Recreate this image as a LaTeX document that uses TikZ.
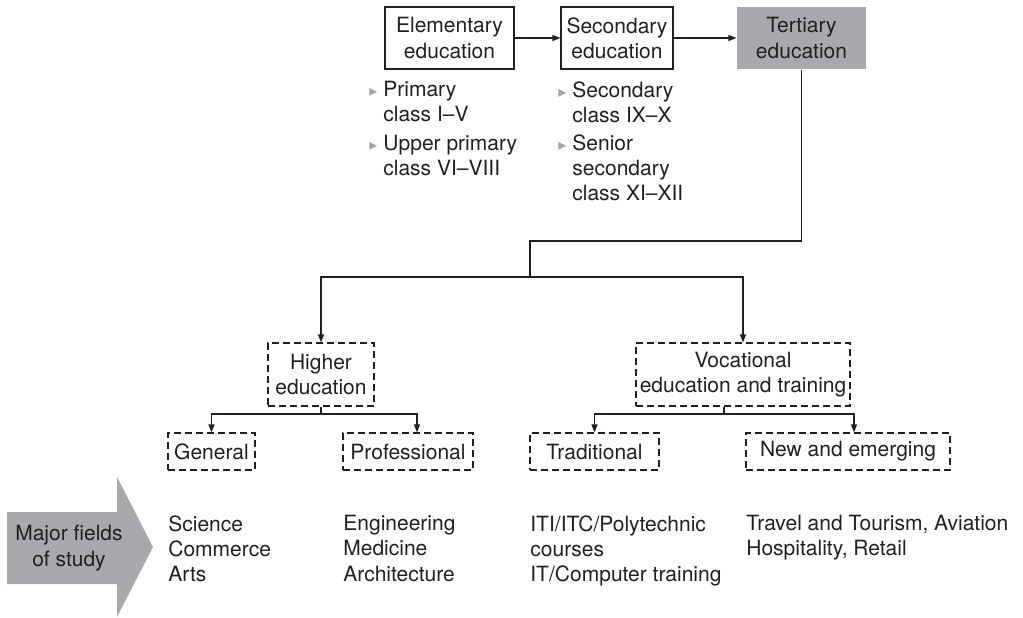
\documentclass[tikz,border=0pt]{standalone}
\usepackage{fontspec}
\setmainfont{TeX Gyre Heros}
\newfontfamily\symfont{DejaVu Sans}
\usetikzlibrary{arrows.meta,positioning,calc}
\definecolor{ink}{HTML}{231F20}
\definecolor{boxgray}{HTML}{A7A9AC}
\newcommand{\bul}{{\symfont\color{black!35}\footnotesize ▸}\hspace{3pt}}

\begin{document}
\begin{tikzpicture}[x=0.5pt,y=-0.5pt,
  every node/.style={font=\fontsize{10.5}{12.6}\selectfont, text=ink, inner sep=0pt},
  solidbox/.style={draw=ink, line width=0.6pt, align=center, minimum height=31pt},
  dashbox/.style={draw=ink, line width=0.6pt, dash pattern=on 3.5pt off 2pt, align=center},
  arr/.style={-{Triangle[length=4pt,width=3pt]}, line width=0.6pt, draw=ink},
  link/.style={line width=0.6pt, draw=ink},
  list/.style={align=left, anchor=north west}]
\useasboundingbox (0,0) rectangle (1023,617);
% School stages
\node[solidbox, minimum width=64.5pt] (elem) at (449.5,38) {Elementary\\education};
\node[solidbox, minimum width=56pt] (sec) at (617,38) {Secondary\\education};
\node[solidbox, draw=none, fill=boxgray, minimum width=64.5pt] (tert) at (801.5,38) {Tertiary\\education};
\draw[arr] (elem) -- (sec);
\draw[arr] (sec) -- (tert);
% Classes under each stage
\node[list] (elemlist) at (383,81) {\llap{\bul}Primary\\class I–V\\[1.5pt]\llap{\bul}Upper primary\\class VI–VIII};
\node[list] (seclist) at (572,81) {\llap{\bul}Secondary\\class IX–X\\[1.5pt]\llap{\bul}Senior\\secondary\\class XI–XII};
% Tertiary splits in two
\node[dashbox, minimum width=53pt, minimum height=31.5pt] (higher) at (321,374.5) {Higher\\education};
\node[dashbox, minimum width=107pt, minimum height=31.5pt] (voc) at (743,374.5) {Vocational\\education and training};
\coordinate (bend) at (530,241);
\coordinate (split) at (530,277);
\draw[link] (tert.south) |- (bend) -- (split);
\draw[arr] (split) -| (higher.north);
\draw[arr] (split) -| (voc.north);
% Streams
\node[dashbox, minimum width=43.5pt, minimum height=18.5pt] (general) at (211.5,451.5) {General};
\node[dashbox, minimum width=65pt, minimum height=18.5pt] (prof) at (408,451.5) {Professional};
\node[dashbox, minimum width=64.5pt, minimum height=18.5pt] (trad) at (594.5,451.5) {Traditional};
\node[dashbox, minimum width=102pt, minimum height=18.5pt] (newem) at (848,451.5) {New and emerging};
\coordinate (hsplit) at (321,414);
\coordinate (vsplit) at (724,414);
\draw[link] (higher.south) -- (hsplit);
\draw[arr] (hsplit) -| (general.north);
\draw[arr] (hsplit) -| ($(prof.north)+(9,0)$);
\draw[link] (vsplit |- voc.south) -- (vsplit);
\draw[arr] (vsplit) -| (trad.north);
\draw[arr] (vsplit) -| ($(newem.north)+(6,0)$);
% Major fields of study
\fill[boxgray] (7,512) -- (117,512) -- (117,477) -- (153,547) -- (117,617) -- (117,584) -- (7,584) -- cycle;
\node[align=center] (fields) at (69,548) {Major fields\\of study};
\node[list] (genlist) at (168,515) {Science\\Commerce\\Arts};
\node[list] (proflist) at (343,515) {Engineering\\Medicine\\Architecture};
\node[list] (tradlist) at (530,515) {ITI/ITC/Polytechnic\\courses\\IT/Computer training};
\node[list] (newlist) at (746,515) {Travel and Tourism, Aviation\\Hospitality, Retail};
\end{tikzpicture}
\end{document}
